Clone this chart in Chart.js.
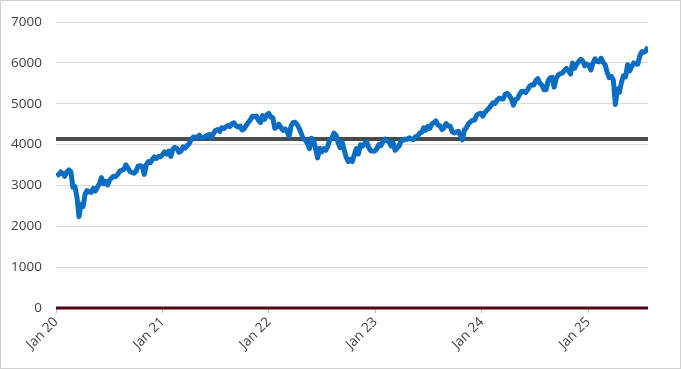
<!DOCTYPE html>
<html>
<head>
<meta charset="utf-8">
<script src="https://cdn.jsdelivr.net/npm/chart.js@4"></script>
<style>
  html, body { margin: 0; padding: 0; background: #fff; }
  #wrap { width: 681px; height: 369px; }
</style>
</head>
<body>
<div id="wrap"><canvas id="chart" width="681" height="369"></canvas></div>
<script>
// weekly closes, first Friday of 2020 onwards
const close2020 = [3235, 3265, 3330, 3295, 3226, 3328, 3380, 3338, 2954, 2972, 2711, 2237, 2541, 2489, 2790, 2875, 2837, 2831, 2930, 2864, 2955, 3044, 3194, 3041, 3098, 3009, 3130, 3185, 3225, 3216, 3271, 3351, 3373, 3397, 3508, 3427, 3341, 3319, 3298, 3348, 3477, 3484, 3465, 3270, 3509, 3585, 3558, 3638, 3699, 3663, 3709, 3703, 3756];
const close2021 = [3825, 3768, 3841, 3714, 3887, 3934, 3907, 3811, 3842, 3943, 3913, 3975, 4020, 4129, 4185, 4180, 4181, 4233, 4174, 4156, 4204, 4230, 4247, 4166, 4281, 4352, 4370, 4327, 4412, 4395, 4437, 4468, 4442, 4509, 4535, 4459, 4433, 4455, 4357, 4391, 4471, 4545, 4605, 4697, 4683, 4698, 4595, 4538, 4712, 4620, 4726, 4766];
const close2022 = [4677, 4663, 4398, 4432, 4500, 4419, 4349, 4385, 4329, 4204, 4463, 4543, 4546, 4488, 4393, 4272, 4132, 4123, 4024, 3901, 4158, 4109, 3901, 3675, 3912, 3825, 3899, 3863, 3962, 4130, 4145, 4280, 4228, 4058, 3924, 4067, 3873, 3693, 3586, 3640, 3583, 3753, 3901, 3771, 3993, 3965, 4026, 4072, 3934, 3852, 3845, 3840];
const close2023 = [3895, 3999, 3973, 4071, 4136, 4090, 4079, 3970, 4046, 3862, 3917, 3971, 4109, 4105, 4138, 4133, 4169, 4136, 4124, 4192, 4205, 4282, 4299, 4410, 4348, 4450, 4399, 4505, 4536, 4582, 4478, 4464, 4370, 4406, 4516, 4457, 4450, 4320, 4288, 4308, 4327, 4224, 4117, 4358, 4415, 4514, 4559, 4595, 4604, 4719, 4755, 4770];
const close2024 = [4697, 4784, 4840, 4891, 4959, 5027, 5006, 5089, 5137, 5124, 5117, 5234, 5254, 5204, 5123, 4967, 5100, 5128, 5223, 5303, 5305, 5278, 5347, 5432, 5465, 5460, 5567, 5615, 5505, 5459, 5346, 5344, 5554, 5635, 5648, 5408, 5626, 5703, 5738, 5751, 5815, 5865, 5808, 5729, 5996, 5870, 5969, 6032, 6090, 6051, 5930, 5971];
const close2025 = [5942, 5827, 5997, 6101, 6041, 6026, 6115, 6013, 5955, 5770, 5639, 5667, 5581, 4982, 5363, 5283, 5525, 5687, 5660, 5958, 5802, 5912, 6000, 5977, 5968, 6173, 6279, 6260, 6297, 6389];

const refLevel = 4140;   // grey horizontal line
const zeroLevel = 0;     // dark red baseline

// x axis in days since 1 Jan 2020
const firstDay = 2;      // Fri 3 Jan 2020
const tickDays = [0, 366, 731, 1096, 1461, 1827];
const tickLabels = ['Jan 20', 'Jan 21', 'Jan 22', 'Jan 23', 'Jan 24', 'Jan 25'];

const closes = [].concat(close2020, close2021, close2022, close2023, close2024, close2025);
const points = closes.map((v, i) => ({ x: firstDay + i * 7, y: v }));
const lastDay = points[points.length - 1].x;

// thin grey frame round the whole picture
const framePlugin = {
    id: 'frame',
    afterDraw(chart) {
        const ctx = chart.ctx;
        ctx.save();
        ctx.strokeStyle = '#d0d0d0';
        ctx.lineWidth = 1;
        ctx.strokeRect(0.5, 0.5, chart.width - 1, chart.height - 1);
        ctx.restore();
    }
};

new Chart(document.getElementById('chart'), {
    type: 'line',
    data: {
        datasets: [
            {
                label: 'Index',
                data: points,
                borderColor: '#0a6dc4',
                borderWidth: 5,
                pointRadius: 0,
                tension: 0,
                borderJoinStyle: 'round'
            },
            {
                label: 'Level',
                data: [{ x: 0, y: refLevel }, { x: lastDay, y: refLevel }],
                borderColor: '#4a4a4a',
                borderWidth: 4,
                pointRadius: 0
            },
            {
                label: 'Zero',
                data: [{ x: 0, y: zeroLevel }, { x: lastDay, y: zeroLevel }],
                borderColor: '#4f0014',
                borderWidth: 3,
                pointRadius: 0,
                clip: false
            }
        ]
    },
    options: {
        responsive: false,
        animation: false,
        layout: { padding: { top: 19, right: 33, bottom: 0, left: 0 } },
        plugins: {
            legend: { display: false },
            tooltip: { enabled: false }
        },
        scales: {
            x: {
                type: 'linear',
                min: 0,
                max: lastDay,
                afterBuildTicks: (scale) => {
                    scale.ticks = tickDays.map(d => ({ value: d }));
                },
                afterFit: (scale) => { scale.height = 61; },
                border: { display: false },
                grid: {
                    drawOnChartArea: false,
                    drawTicks: true,
                    tickLength: 5,
                    color: '#bfbfbf'
                },
                ticks: {
                    autoSkip: false,
                    minRotation: 45,
                    maxRotation: 45,
                    padding: 1,
                    color: '#404040',
                    font: { family: 'Open Sans', size: 13.5 },
                    callback: (value) => {
                        const k = tickDays.indexOf(value);
                        return k >= 0 ? tickLabels[k] : '';
                    }
                }
            },
            y: {
                min: 0,
                max: 7000,
                afterFit: (scale) => { scale.width = 56; },
                border: { display: false },
                grid: { color: '#d9d9d9', lineWidth: 1, drawTicks: false },
                ticks: {
                    stepSize: 1000,
                    padding: 14,
                    color: '#404040',
                    font: { family: 'Open Sans', size: 13.5 },
                    callback: (value) => String(value)
                }
            }
        }
    },
    plugins: [framePlugin]
});
</script>
</body>
</html>
